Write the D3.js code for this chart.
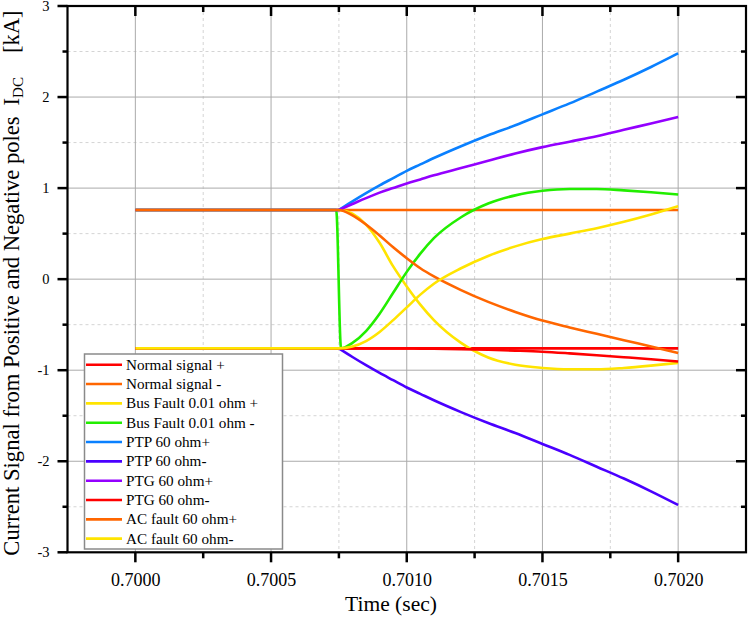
<!DOCTYPE html>
<html>
<head>
<meta charset="utf-8">
<script src="https://cdn.jsdelivr.net/npm/d3@7"></script>
<style>
  html, body { margin: 0; padding: 0; background: #fff; }
  svg { display: block; }
  text { font-family: "Liberation Serif", "Times New Roman", serif; fill: #000; }
</style>
</head>
<body>
<svg id="chart" width="748" height="619"></svg>
<script>
// ---------- data ----------
const times = [0.7000, 0.70075, 0.7008, 0.70085, 0.7009, 0.70095, 0.7010, 0.70105, 0.7011, 0.7012, 0.7013, 0.7014, 0.7015, 0.7016, 0.7017, 0.7018, 0.7019, 0.7020];
const greenTimes = [0.7000, 0.70074, 0.700758, 0.7008, 0.70085, 0.7009, 0.70095, 0.7010, 0.70105, 0.7011, 0.7012, 0.7013, 0.7014, 0.7015, 0.7016, 0.7017, 0.7018, 0.7019, 0.7020];

const normalPos  = [-0.76, -0.76, -0.76, -0.76, -0.76, -0.76, -0.76, -0.76, -0.76, -0.76, -0.76, -0.76, -0.76, -0.76, -0.76, -0.76, -0.76, -0.76];
const normalNeg  = [0.76, 0.76, 0.76, 0.76, 0.76, 0.76, 0.76, 0.76, 0.76, 0.76, 0.76, 0.76, 0.76, 0.76, 0.76, 0.76, 0.76, 0.76];
const busPos     = [0.76, 0.76, 0.72, 0.60, 0.40, 0.14, -0.08, -0.28, -0.45, -0.70, -0.86, -0.94, -0.975, -0.99, -0.99, -0.975, -0.95, -0.92];
const busNeg     = [0.76, 0.76, -0.76, -0.70, -0.57, -0.38, -0.15, 0.08, 0.28, 0.45, 0.68, 0.83, 0.92, 0.97, 0.99, 0.99, 0.975, 0.955, 0.93];
const ptpPos     = [0.76, 0.76, 0.855, 0.945, 1.03, 1.11, 1.19, 1.26, 1.33, 1.46, 1.58, 1.69, 1.81, 1.93, 2.06, 2.19, 2.33, 2.48];
const ptpNeg     = [-0.76, -0.76, -0.855, -0.945, -1.03, -1.11, -1.19, -1.26, -1.33, -1.46, -1.58, -1.69, -1.81, -1.93, -2.06, -2.19, -2.33, -2.48];
const ptgPos     = [0.76, 0.76, 0.825, 0.89, 0.95, 1.00, 1.05, 1.095, 1.14, 1.22, 1.30, 1.38, 1.45, 1.51, 1.57, 1.64, 1.71, 1.78];
const ptgNeg     = [-0.76, -0.76, -0.76, -0.76, -0.76, -0.761, -0.762, -0.763, -0.765, -0.768, -0.775, -0.785, -0.797, -0.815, -0.835, -0.857, -0.88, -0.905];
const acPos      = [0.76, 0.76, 0.70, 0.60, 0.48, 0.35, 0.23, 0.12, 0.03, -0.12, -0.25, -0.36, -0.455, -0.53, -0.60, -0.67, -0.74, -0.81];
const acNeg      = [-0.76, -0.76, -0.74, -0.68, -0.58, -0.45, -0.31, -0.17, -0.05, 0.12, 0.255, 0.36, 0.44, 0.50, 0.56, 0.63, 0.71, 0.80];

const seriesNames = ["Normal signal +", "Normal signal -", "Bus Fault 0.01 ohm +", "Bus Fault 0.01 ohm -", "PTP 60 ohm+", "PTP 60 ohm-", "PTG 60 ohm+", "PTG 60 ohm-", "AC fault 60 ohm+", "AC fault 60 ohm-"];
const seriesColors = ["#ff0000", "#ff6600", "#ffe400", "#22ee00", "#0a80ff", "#4a00ff", "#9400ff", "#ff0000", "#ff6600", "#ffe400"];
const seriesValues = [normalPos, normalNeg, busPos, busNeg, ptpPos, ptpNeg, ptgPos, ptgNeg, acPos, acNeg];
const seriesTimes  = [times, times, times, greenTimes, times, times, times, times, times, times];
const seriesSharpKink = [false, false, false, false, true, true, true, false, false, false];

const xMajorTicks = [0.7000, 0.7005, 0.7010, 0.7015, 0.7020];
const xMinorTicks = [0.70025, 0.70075, 0.70125, 0.70175];
const yMajorTicks = [-3, -2, -1, 0, 1, 2, 3];
const yMinorTicks = [-2.5, -1.5, -0.5, 0.5, 1.5, 2.5];

// ---------- layout ----------
const L = 67.5, R = 746, T = 6, B = 552.3;
const svg = d3.select("#chart");
const x = d3.scaleLinear().domain([0.69975, 0.70225]).range([L, R]);
const y = d3.scaleLinear().domain([-3, 3]).range([B, T]);

// grid
const grid = svg.append("g");
grid.selectAll(".vmin").data(xMinorTicks).enter().append("line")
  .attr("x1", d => x(d)).attr("x2", d => x(d)).attr("y1", T).attr("y2", B)
  .attr("stroke", "#d4d4d4").attr("stroke-width", 1).attr("stroke-dasharray", "3,3");
grid.selectAll(".hmin").data(yMinorTicks).enter().append("line")
  .attr("y1", d => y(d)).attr("y2", d => y(d)).attr("x1", L).attr("x2", R)
  .attr("stroke", "#d4d4d4").attr("stroke-width", 1).attr("stroke-dasharray", "3,3");
grid.selectAll(".vmaj").data(xMajorTicks).enter().append("line")
  .attr("x1", d => x(d)).attr("x2", d => x(d)).attr("y1", T).attr("y2", B)
  .attr("stroke", "#aaaaaa").attr("stroke-width", 1);
grid.selectAll(".hmaj").data(yMajorTicks.filter(d => Math.abs(d) < 3)).enter().append("line")
  .attr("y1", d => y(d)).attr("y2", d => y(d)).attr("x1", L).attr("x2", R)
  .attr("stroke", "#aaaaaa").attr("stroke-width", 1);

// series
const lineGen = d3.line().curve(d3.curveMonotoneX);
const linesG = svg.append("g");
seriesValues.forEach((vals, i) => {
  const ts = seriesTimes[i];
  const pts = vals.map((v, j) => [x(ts[j]), y(v)]);
  let d;
  if (seriesSharpKink[i]) {
    d = "M" + pts[0][0] + "," + pts[0][1] + "L" + lineGen(pts.slice(1)).slice(1);
  } else {
    d = lineGen(pts);
  }
  linesG.append("path").attr("d", d)
    .attr("fill", "none").attr("stroke", seriesColors[i]).attr("stroke-width", 2.6)
    .attr("stroke-linejoin", "round");
});

// axes: labels from d3 axes
const axBottom = d3.axisBottom(x).tickValues(xMajorTicks).tickFormat(d3.format(".4f")).tickSize(0).tickPadding(21);
const axLeft = d3.axisLeft(y).tickValues(yMajorTicks).tickFormat(d => String(d)).tickSize(0).tickPadding(18);
const gB = svg.append("g").attr("transform", `translate(0,${B})`).call(axBottom);
gB.select(".domain").remove();
gB.selectAll("text").attr("font-size", 18);
const gL = svg.append("g").attr("transform", `translate(${L},0)`).call(axLeft);
gL.select(".domain").remove();
gL.selectAll("text").attr("font-size", 14.5);

// tick marks as filled rects positioned by the scales
const tw = 2.5;
const ticksG = svg.append("g").attr("fill", "#000");
function vTicks(vals, y0, len) {
  ticksG.selectAll(null).data(vals).enter().append("rect")
    .attr("x", d => x(d) - tw / 2).attr("width", tw)
    .attr("y", len > 0 ? y0 : y0 + len).attr("height", Math.abs(len));
}
function hTicks(vals, x0, len) {
  ticksG.selectAll(null).data(vals).enter().append("rect")
    .attr("y", d => y(d) - tw / 2).attr("height", tw)
    .attr("x", len > 0 ? x0 : x0 + len).attr("width", Math.abs(len));
}
vTicks(xMajorTicks, B, 10);
vTicks(xMinorTicks, B, 6);
vTicks(xMajorTicks, T, 10);
vTicks(xMinorTicks, T, 6);
hTicks(yMajorTicks, L, -10);
hTicks(yMinorTicks, L, -5);
hTicks(yMajorTicks.filter(d => Math.abs(d) < 3), R, -10);
hTicks(yMinorTicks, R, -5);

// frame
svg.append("rect").attr("x", L).attr("y", T).attr("width", R - L).attr("height", B - T)
  .attr("fill", "none").attr("stroke", "#000").attr("stroke-width", 2.2);

// legend
const lg = svg.append("g");
lg.append("rect").attr("x", 84.5).attr("y", 354).attr("width", 198).attr("height", 195)
  .attr("fill", "#fff").attr("stroke", "#8a8a8a").attr("stroke-width", 1.5);
seriesNames.forEach((name, i) => {
  const yy = 364.7 + i * 19.33;
  lg.append("line").attr("x1", 86).attr("x2", 122).attr("y1", yy).attr("y2", yy)
    .attr("stroke", seriesColors[i]).attr("stroke-width", 2.6);
  lg.append("text").attr("x", 126).attr("y", yy + 5).attr("font-size", 15.2).text(name);
});

// axis titles
svg.append("text").attr("x", 391).attr("y", 611).attr("text-anchor", "middle")
  .attr("font-size", 21.5).text("Time (sec)");

const yt = svg.append("text").attr("transform", "translate(18.5,283) rotate(-90)")
  .attr("text-anchor", "middle").attr("font-size", 22.6);
yt.append("tspan").text("Current Signal from Positive and Negative poles");
yt.append("tspan").attr("dx", 11).text("I");
yt.append("tspan").attr("font-size", 15).attr("dy", 4).text("DC");
yt.append("tspan").attr("dx", 24).attr("dy", -4).text("[kA]");
</script>
</body>
</html>
